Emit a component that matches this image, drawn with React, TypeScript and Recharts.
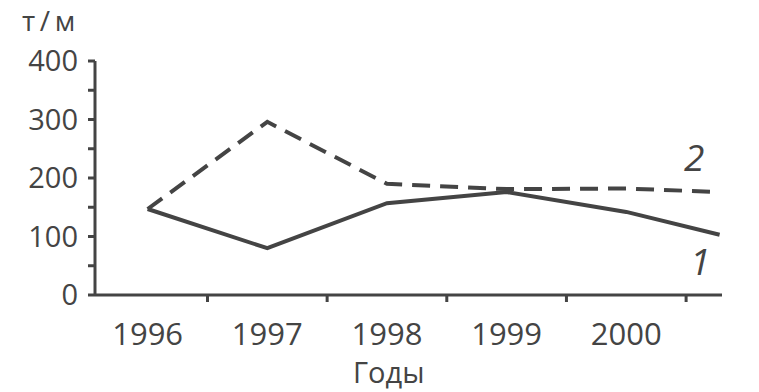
import { LineChart, Line, XAxis, YAxis } from 'recharts';

// годы (последняя точка — продолжение линии за 2000 г.)
const years = [1996, 1997, 1998, 1999, 2000, 2000.78];
const series1 = [147, 80, 157, 176, 142, 103];
const series2 = [147, 296, 190, 181, 182, 176];
const yearLabels = [1996, 1997, 1998, 1999, 2000];
const yearBounds = [1996.5, 1997.5, 1998.5, 1999.5, 2000.5];
const yTicks = [0, 50, 100, 150, 200, 250, 300, 350, 400];

const data = years.map((year, i) => ({ year, s1: series1[i], s2: series2[i] }));

const INK = '#444';
const FONT = '"Open Sans", sans-serif';

const XTick = (props: any) => {
  const { x, y, payload } = props;
  const v = payload.value;
  if (yearLabels.includes(v)) {
    return (
      <text x={x} y={y + 50} textAnchor="middle" fontSize={31} fill={INK} fontFamily={FONT}>
        {v}
      </text>
    );
  }
  return <line x1={x} x2={x} y1={y} y2={y + 7} stroke={INK} strokeWidth={3} />;
};

const YTick = (props: any) => {
  const { x, y, payload } = props;
  if (payload.value % 100 !== 0) return <g />;
  return (
    <text x={x} y={y} dy={10} textAnchor="end" fontSize={29} fill={INK} fontFamily={FONT}>
      {payload.value}
    </text>
  );
};

const textStyle = { position: 'absolute' as const, color: INK, fontFamily: FONT, lineHeight: 1, whiteSpace: 'nowrap' as const };

export default function App() {
  return (
    <div style={{ position: 'absolute', left: 0, top: 0, width: 759, height: 392, background: '#fff' }}>
      <LineChart
        width={759}
        height={392}
        data={data}
        margin={{ top: 61, right: 37, bottom: 37, left: 0 }}
      >
        <XAxis
          dataKey="year"
          type="number"
          domain={[1995.56, 2000.8]}
          ticks={[...yearLabels, ...yearBounds].sort((a, b) => a - b)}
          interval={0}
          tickLine={false}
          tickSize={0}
          tickMargin={0}
          tick={<XTick />}
          axisLine={{ stroke: INK, strokeWidth: 3 }}
          height={60}
          allowDataOverflow
        />
        <YAxis
          domain={[0, 400]}
          ticks={yTicks}
          interval={0}
          width={95}
          tickSize={7}
          tickMargin={10}
          tick={<YTick />}
          tickLine={{ stroke: INK, strokeWidth: 3 }}
          axisLine={{ stroke: INK, strokeWidth: 3 }}
        />
        <Line
          dataKey="s1"
          stroke={INK}
          strokeWidth={4}
          dot={false}
          isAnimationActive={false}
        />
        <Line
          dataKey="s2"
          stroke={INK}
          strokeWidth={4}
          strokeDasharray="18 10"
          dot={false}
          isAnimationActive={false}
        />
      </LineChart>
      <div style={{ ...textStyle, left: 22, top: 6, fontSize: 28 }}>т&thinsp;/&thinsp;м</div>
      <div style={{ ...textStyle, left: 353, top: 357, fontSize: 29 }}>Годы</div>
      <div style={{ ...textStyle, left: 684, top: 138, fontSize: 37, fontStyle: 'italic' }}>2</div>
      <div style={{ ...textStyle, left: 690, top: 242, fontSize: 37, fontStyle: 'italic' }}>1</div>
    </div>
  );
}
